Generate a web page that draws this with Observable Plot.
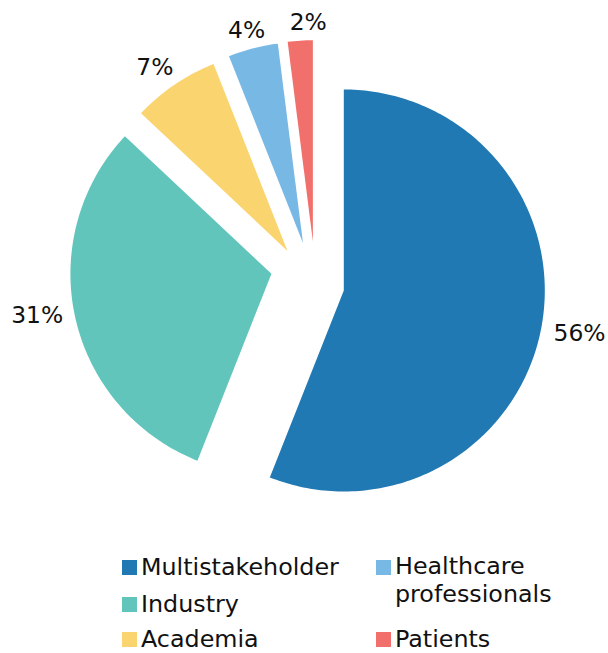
<!DOCTYPE html>
<html>
<head>
<meta charset="utf-8">
<script src="https://cdn.jsdelivr.net/npm/d3@7"></script>
<script src="https://cdn.jsdelivr.net/npm/@observablehq/plot@0.6"></script>
<style>
  html, body { margin: 0; padding: 0; background: #fff; }
  #wrap { position: relative; width: 608px; height: 653px; overflow: hidden; font-family: "DejaVu Sans", Verdana, sans-serif; }
  .item { position: absolute; color: #111; }
  .sw { position: absolute; width: 15px; height: 15px; }
  .lbl { position: absolute; white-space: normal; }
</style>
</head>
<body>
<div id="wrap"></div>
<script>
// ---- data ----
const categories = ["Multistakeholder", "Industry", "Academia", "Healthcare professionals", "Patients"];
const values = [56, 31, 7, 4, 2];
const labels = ["56%", "31%", "7%", "4%", "2%"];
const colors = ["#2179b3", "#61c5bc", "#fad46f", "#77b8e5", "#f2706b"];
// legend arrangement (column, row)
const legendCol = [0, 0, 0, 1, 1];
const legendRow = [0, 1, 2, 0, 2];

// ---- layout constants ----
const W = 608, H = 530;
const R = 201, CX = 343.3, CY = 290;
// slice displacement (in radius units, y up) for the exploded pie
const offsets = [[0, 0], [-0.36, 0.083], [-0.28, 0.197], [-0.203, 0.236], [-0.154, 0.245]];
// small label nudges in pixels (screen, y down)
const nudges = [[0, 1], [0, -7.5], [-2, 3], [1.5, 6], [10, 6]];
const FS = 23.4;      // pie label font size
const LFS = 23.8;     // legend font size

const total = d3.sum(values);
const slicePts = [];
const labelPts = [];
let acc = 0;
values.forEach((v, i) => {
  const a0 = acc / total * 2 * Math.PI;
  acc += v;
  const a1 = acc / total * 2 * Math.PI;
  const m = (a0 + a1) / 2;
  const ux = Math.sin(m), uy = Math.cos(m);
  const [ox, oy] = offsets[i];
  slicePts.push({cat: categories[i], x: ox, y: oy});
  const n = Math.max(4, Math.ceil((a1 - a0) / (Math.PI / 180)));
  for (let k = 0; k <= n; k++) {
    const a = a0 + (a1 - a0) * k / n;
    slicePts.push({cat: categories[i], x: ox + Math.sin(a), y: oy + Math.cos(a)});
  }
  // label outside the arc, box pushed away from the slice
  const txt = labels[i];
  const wpx = ((txt.length - 1) * 0.636 + 0.95) * FS;
  const gap = 13;
  const dist = 1 + gap / R;
  labelPts.push({
    text: txt,
    x: ox + dist * ux + (wpx / 2 / R) * ux + nudges[i][0] / R,
    y: oy + dist * uy + (11.5 / R) * uy - nudges[i][1] / R
  });
});

const chart = Plot.plot({
  width: W,
  height: H,
  margin: 0,
  x: {domain: [-1, 1], range: [CX - R, CX + R], axis: null},
  y: {domain: [-1, 1], range: [CY + R, CY - R], axis: null},
  color: {domain: categories, range: colors},
  style: {fontFamily: "DejaVu Sans, Verdana, sans-serif", background: "#fff", overflow: "visible"},
  marks: [
    Plot.line(slicePts, {x: "x", y: "y", z: "cat", fill: "cat", stroke: "none", curve: "linear-closed"}),
    Plot.text(labelPts, {x: "x", y: "y", text: "text", fontSize: FS, fill: "#111", textAnchor: "middle", lineAnchor: "middle"})
  ]
});

const wrap = document.getElementById("wrap");
wrap.appendChild(chart);

// ---- legend (HTML, below the SVG) ----
const colX = [122, 376];
const baselines = [575, 612.5, 647];
categories.forEach((c, i) => {
  const twoLine = c.length > 18;
  const L = twoLine ? 27.5 : 20;
  const asc = 0.928 * LFS, desc = 0.236 * LFS;
  const baseOff = (L - asc - desc) / 2 + asc; // baseline position inside first line box
  const bl = baselines[legendRow[i]];
  const item = document.createElement("div");
  item.className = "item";
  item.style.fontSize = LFS + "px";
  item.style.left = colX[legendCol[i]] + "px";
  item.style.top = (bl - baseOff) + "px";
  item.style.lineHeight = L + "px";
  const sw = document.createElement("div");
  sw.className = "sw";
  sw.style.background = colors[i];
  sw.style.left = "0px";
  sw.style.top = (baseOff - 15) + "px";
  const lb = document.createElement("div");
  lb.className = "lbl";
  lb.style.left = "19px";
  lb.style.top = "0px";
  lb.style.width = "195px";
  lb.textContent = c;
  item.appendChild(sw);
  item.appendChild(lb);
  wrap.appendChild(item);
});
</script>
</body>
</html>
